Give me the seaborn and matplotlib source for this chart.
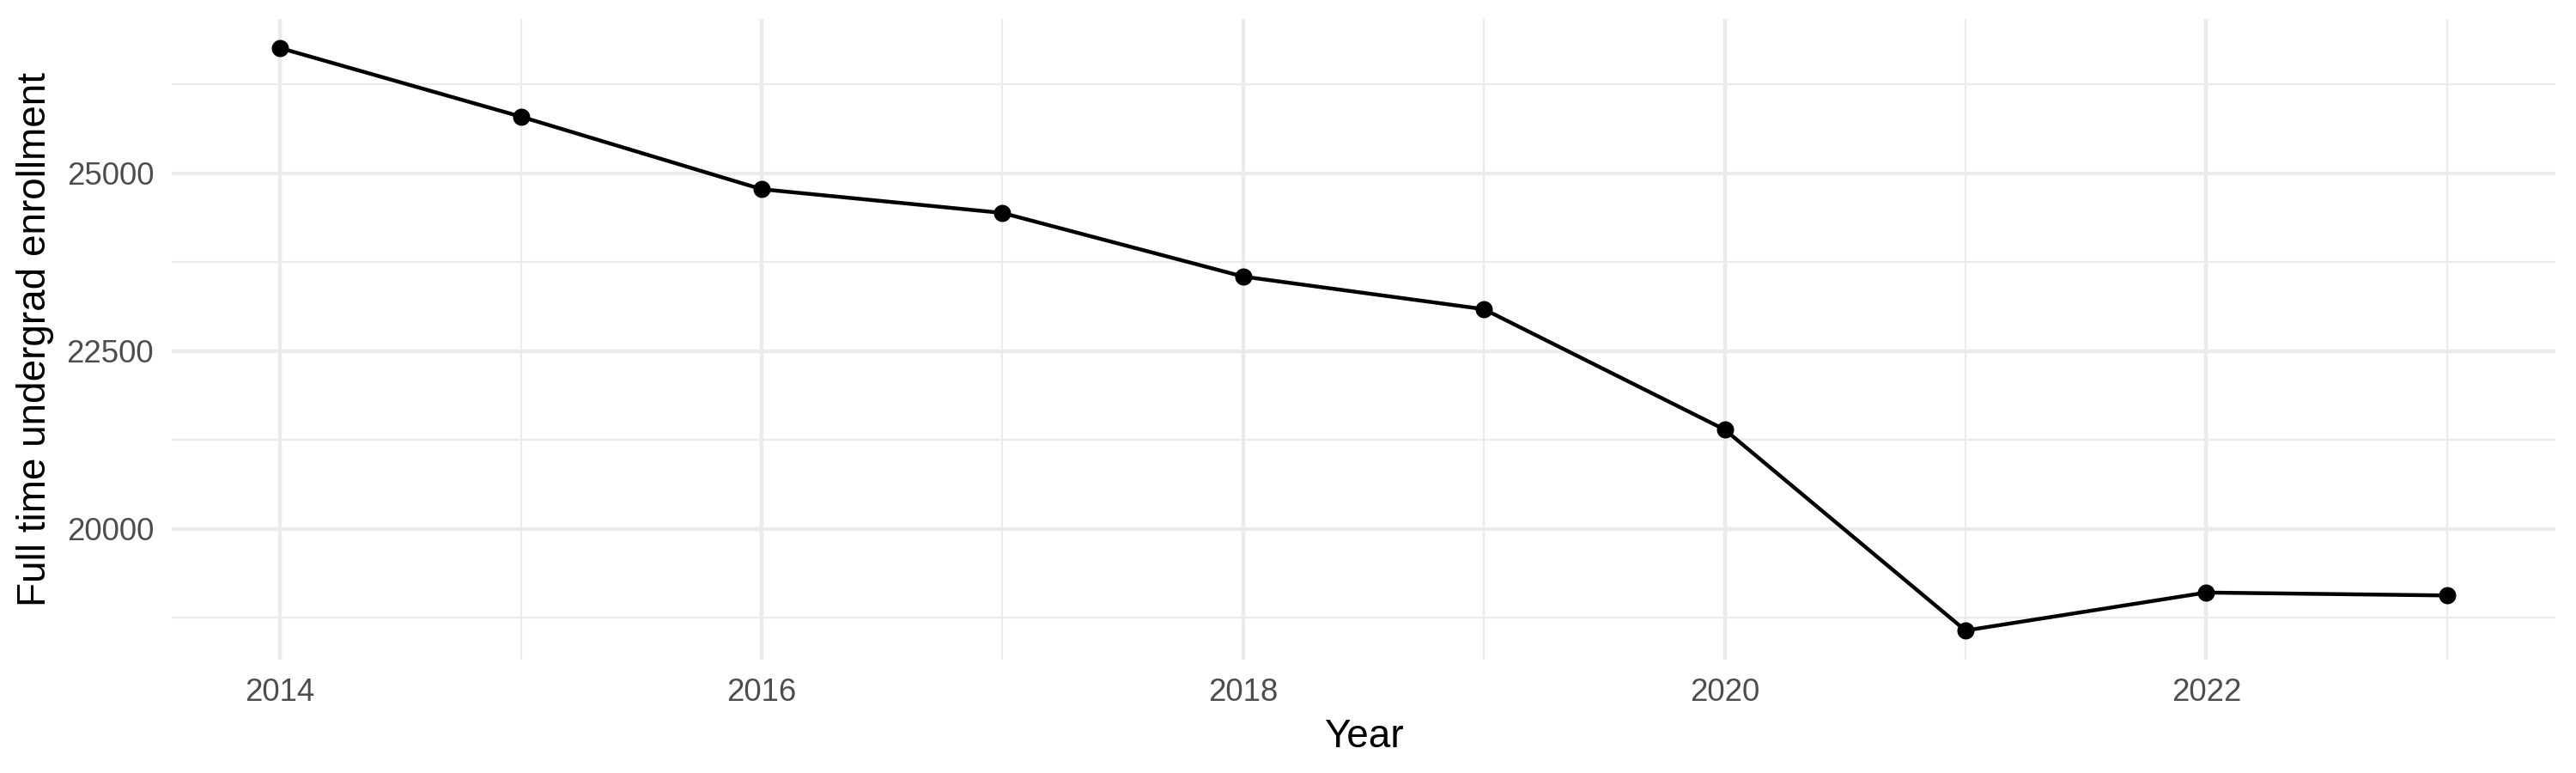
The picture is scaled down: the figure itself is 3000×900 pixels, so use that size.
import matplotlib
matplotlib.use("Agg")
import matplotlib.pyplot as plt
import pandas as pd
import seaborn as sns
from matplotlib.ticker import MultipleLocator

years = [2014, 2015, 2016, 2017, 2018, 2019, 2020, 2021, 2022, 2023]
enrollment = [26764, 25799, 24778, 24444, 23549, 23090, 21396, 18570, 19104, 19063]

df = pd.DataFrame({"Year": years, "Full time undergrad enrollment": enrollment})

sns.set_theme(style="white")
plt.rcParams["font.family"] = ["Liberation Sans", "DejaVu Sans"]

fig, ax = plt.subplots(figsize=(10, 3), dpi=300)
fig.subplots_adjust(left=200 / 3000, right=2976 / 3000, top=1 - 22 / 900, bottom=1 - 768 / 900)

sns.lineplot(
    data=df,
    x="Year",
    y="Full time undergrad enrollment",
    color="black",
    linewidth=1.07,
    marker="o",
    markersize=4.8,
    markeredgewidth=0,
    ax=ax,
)

# ggplot-like expansion of 5%
xr = max(years) - min(years)
yr = max(enrollment) - min(enrollment)
ax.set_xlim(min(years) - 0.05 * xr, max(years) + 0.05 * xr)
ax.set_ylim(min(enrollment) - 0.05 * yr, max(enrollment) + 0.05 * yr)

ax.xaxis.set_major_locator(MultipleLocator(2))
ax.xaxis.set_minor_locator(MultipleLocator(1))
ax.yaxis.set_major_locator(MultipleLocator(2500))
ax.yaxis.set_minor_locator(MultipleLocator(1250))

ax.grid(which="major", color="#EBEBEB", linewidth=1.07)
ax.grid(which="minor", color="#EBEBEB", linewidth=0.53)
ax.set_axisbelow(True)
for s in ax.spines.values():
    s.set_visible(False)

ax.tick_params(which="both", length=0, pad=5, labelsize=8.8, labelcolor="#4D4D4D")
ax.set_xlabel("Year", fontsize=11, color="black", labelpad=3)
ax.set_ylabel("Full time undergrad enrollment", fontsize=11, color="black", labelpad=3.5)

fig.savefig("out.png", dpi=300, facecolor="white")
